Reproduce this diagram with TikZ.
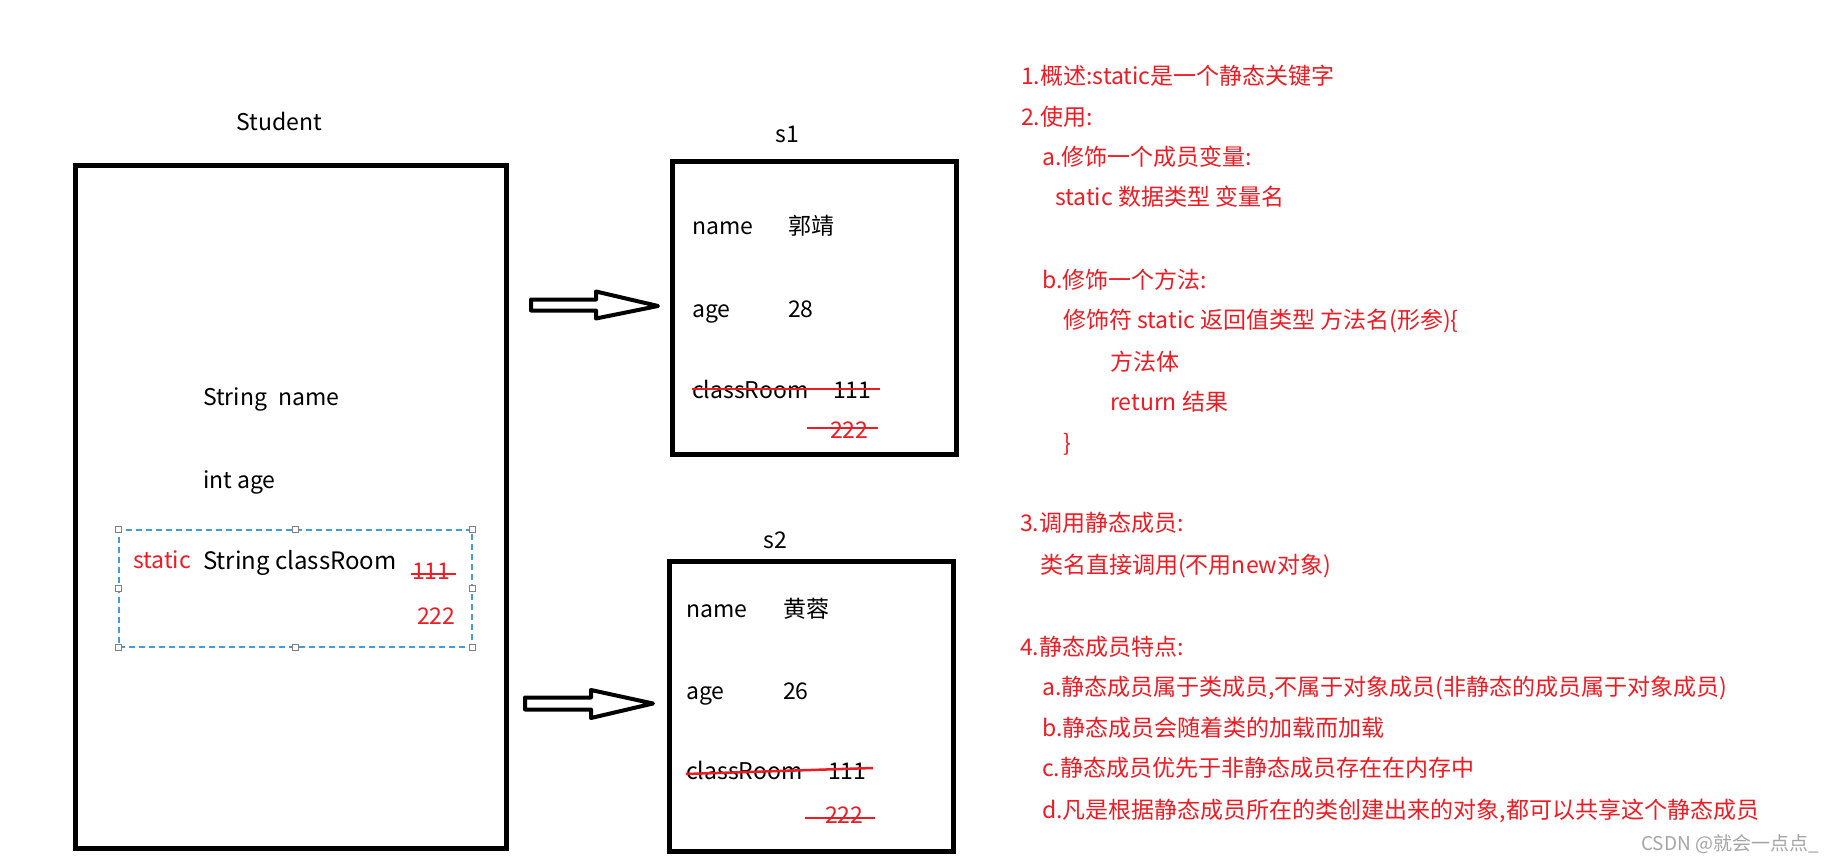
\documentclass[tikz,border=0pt]{standalone}
\usepackage{fontspec}
\setmainfont{Noto Sans CJK SC}
\definecolor{mred}{RGB}{237,28,36}
\definecolor{selblue}{RGB}{70,155,220}
\definecolor{wmgray}{RGB}{165,165,165}
\newcommand\fsz{\fontsize{23}{28}\selectfont}
\tikzset{
  objbox/.style={draw, line width=5pt, inner sep=0pt},
  txt/.style={anchor=base west, inner sep=0pt, font=\fsz},
  rtxt/.style={txt, text=mred},
  strike/.style={draw=mred, line width=2.5pt},
  selbox/.style={draw=selblue, line width=1.2pt, dash pattern=on 6pt off 4pt, inner sep=0pt},
  handle/.style={draw=gray, fill=white, line width=0.8pt, minimum size=6pt, inner sep=0pt},
  fatarrow/.style={draw, line width=4pt, line join=round, fill=white}
}

\begin{document}
\begin{tikzpicture}[x=1pt,y=-1pt]
\useasboundingbox[fill=white] (0,0) rectangle (1837,861);

% class Student
\node[objbox, minimum width=431pt, minimum height=682pt] (student) at (291,507) {};
\node[txt, anchor=base] (stlabel) at (279,131) {Student};
\node[txt] (fname) at (203,405) {String\hspace{11pt}name};
\node[txt] (fage) at (203,488) {int age};
\node[selbox, minimum width=353pt, minimum height=117pt] (sel) at (295.5,588.5) {};
\foreach \a [count=\i] in {north west,north,north east,east,south east,south,south west,west}
  \node[handle] (h\i) at (sel.\a) {};
\node[rtxt] (kw) at (133,568) {static};
\node[txt, font=\fontsize{24}{28}\selectfont] (fcr) at (203,569) {String classRoom};
\node[rtxt] (old) at (412,579) {111};
\node[rtxt] (new) at (417,624) {222};
\draw[strike] (411,574) -- (456,574);

% object s1
\node[objbox, minimum width=284pt, minimum height=292pt] (s1) at (814,308) {};
\node[txt, anchor=base] (s1label) at (787,143) {s1};
\node[txt] (n1) at (692,235) {name};
\node[txt] (nv1) at (788,235) {郭靖};
\node[txt] (a1) at (692,317) {age};
\node[txt] (av1) at (788,317) {28};
\node[txt] (c1) at (692,398) {classRoom};
\node[txt] (cv1) at (833,398) {111};
\node[rtxt] (cn1) at (830,438) {222};
\draw[strike] (692,389) -- (880,389);
\draw[strike] (807,428) -- (878,428);

% object s2
\node[objbox, minimum width=284pt, minimum height=290pt] (s2) at (811,706) {};
\node[txt, anchor=base] (s2label) at (775,548) {s2};
\node[txt] (n2) at (686,617) {name};
\node[txt] (nv2) at (783,617) {黄蓉};
\node[txt] (a2) at (686,699) {age};
\node[txt] (av2) at (783,699) {26};
\node[txt] (c2) at (686,779) {classRoom};
\node[txt] (cv2) at (828,779) {111};
\node[rtxt] (cn2) at (825,823) {222};
\draw[strike] (686,774) -- (873,768);
\draw[strike] (805,818) -- (875,818);

% arrows
\draw[fatarrow] (531,299.5) -- (596,299.5) -- (596,291.5) -- (658,306) -- (596,318.5) -- (596,310.5) -- (531,310.5) -- cycle;
\draw[fatarrow] (525,697.5) -- (591,697.5) -- (591,690) -- (653,703.5) -- (591,718) -- (591,709.5) -- (525,709.5) -- cycle;

% notes
\node[rtxt] (p1) at (1021,85) {1.概述:static是一个静态关键字};
\node[rtxt] (p2) at (1021,126) {2.使用:};
\node[rtxt] (p2a) at (1042,166) {a.修饰一个成员变量:};
\node[rtxt] (p2a1) at (1055,206) {static 数据类型 变量名};
\node[rtxt] (p2b) at (1042,288) {b.修饰一个方法:};
\node[rtxt] (p2b1) at (1063,328) {修饰符 static 返回值类型 方法名(形参)\{};
\node[rtxt] (p2b2) at (1110,370) {方法体};
\node[rtxt] (p2b3) at (1110,410) {return 结果};
\node[rtxt] (p2b4) at (1063,451) {\}};
\node[rtxt] (p3) at (1020,531) {3.调用静态成员:};
\node[rtxt] (p3a) at (1040,573) {类名直接调用(不用new对象)};
\node[rtxt] (p4) at (1020,655) {4.静态成员特点:};
\node[rtxt] (p4a) at (1042,695) {a.静态成员属于类成员,不属于对象成员(非静态的成员属于对象成员)};
\node[rtxt] (p4b) at (1042,736) {b.静态成员会随着类的加载而加载};
\node[rtxt] (p4c) at (1042,776) {c.静态成员优先于非静态成员存在在内存中};
\node[rtxt] (p4d) at (1042,818) {d.凡是根据静态成员所在的类创建出来的对象,都可以共享这个静态成员};
\node[txt, text=wmgray, font=\fontsize{19}{22}\selectfont] (wm) at (1641,850) {CSDN @就会一点点\_};
\end{tikzpicture}
\end{document}
